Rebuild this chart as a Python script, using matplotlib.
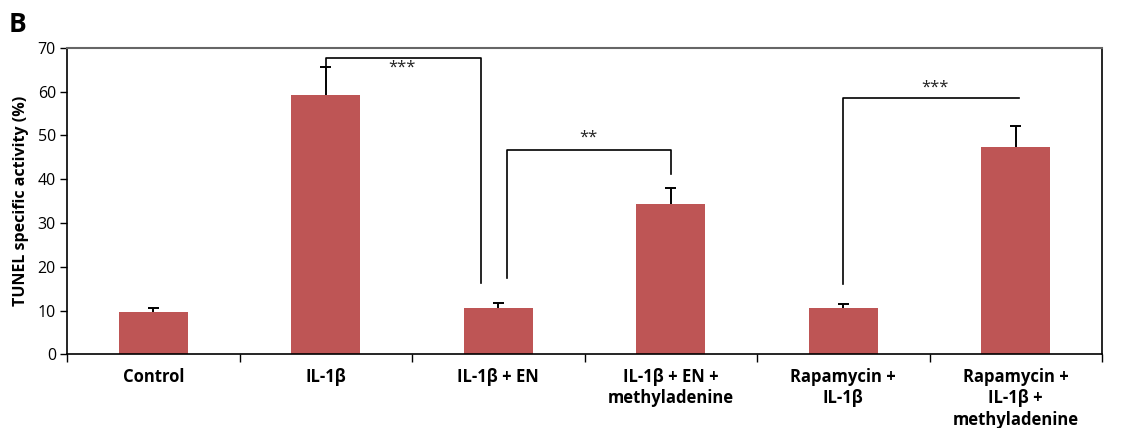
import matplotlib.pyplot as plt
import numpy as np

grupos = ['Control', 'IL-1β', 'IL-1β + EN', 'IL-1β + EN +\nmethyladenine',
          'Rapamycin +\nIL-1β', 'Rapamycin +\nIL-1β +\nmethyladenine']
tunel = [9.7, 59.3, 10.7, 34.4, 10.6, 47.4]
erro = [1.0, 6.4, 1.0, 3.5, 1.0, 4.8]

# colchetes de significancia: x esquerda, x direita, altura, base esquerda, base direita, texto
colchetes = [
    (1.0, 1.9, 67.6, 65.7, 16.2, '***'),
    (2.05, 3.0, 46.7, 17.5, 41.2, '**'),
    (4.0, 5.02, 58.6, 16.1, 58.6, '***'),
]
pos_texto = [(1.44, 65.4), (2.52, 49.6), (4.53, 61.0)]

plt.rcParams['font.family'] = ['Open Sans', 'DejaVu Sans']

fig = plt.figure(figsize=(11.21, 4.28), dpi=100)
ax = fig.add_axes([0.0598, 0.172, 0.9233, 0.716])

x = np.arange(len(grupos))
topo = np.array(tunel) + np.array(erro)
ax.bar(x, tunel, width=0.4, color='#be5555', zorder=2)
# barra de erro so para cima
ax.vlines(x, tunel, topo, color='black', lw=1.4, zorder=3)
ax.hlines(topo, x - 0.033, x + 0.033, color='black', lw=1.4, zorder=3)

for (x1, x2, h, b1, b2, txt), (tx, ty) in zip(colchetes, pos_texto):
    ax.plot([x1, x1, x2, x2], [b1, h, h, b2], color='black', lw=1.2, zorder=4)
    ax.text(tx, ty, txt, ha='center', va='center', fontsize=12, color='#222222')

ax.set_xlim(-0.5, len(grupos) - 0.5)
ax.set_ylim(0, 70)
ax.set_yticks(range(0, 71, 10))
ax.set_xticks(np.arange(-0.5, len(grupos), 1.0))
ax.set_xticklabels([])
ax.tick_params(axis='x', direction='out', length=6, width=1)
ax.tick_params(axis='y', direction='out', length=5, width=1, labelsize=11.5, pad=3)
for i, g in enumerate(grupos):
    ax.text(i, -3.0, g, ha='center', va='top', fontsize=12, fontweight='bold',
            linespacing=1.28)

ax.spines['top'].set_color('#666666')
ax.spines['top'].set_linewidth(1.5)
for s in ['left', 'right', 'bottom']:
    ax.spines[s].set_linewidth(1.2)
    ax.spines[s].set_color('black')

ax.set_ylabel('TUNEL specific activity (%)', fontsize=11.5, fontweight='bold', labelpad=6)
fig.text(0.008, 0.925, 'B', fontsize=19, fontweight='bold')

plt.savefig('out.png', dpi=100)
